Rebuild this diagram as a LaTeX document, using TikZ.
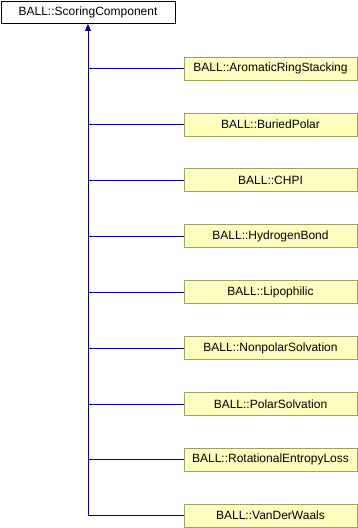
\documentclass[tikz,border=0pt]{standalone}
\usepackage{fontspec}
\setmainfont{Liberation Sans}
\usetikzlibrary{arrows.meta}
\definecolor{edgeblue}{HTML}{000080}
\definecolor{childfill}{HTML}{FFFFC0}
\definecolor{childline}{HTML}{A0A060}
\begin{document}
\begin{tikzpicture}[x=1pt,y=-1pt,
  basebox/.style={draw=black,fill=white,line width=0.8pt,minimum width=174pt,minimum height=22pt,inner sep=0pt,font=\fontsize{12}{14}\selectfont},
  childbox/.style={draw=childline,fill=childfill,line width=0.8pt,minimum width=173pt,minimum height=23pt,inner sep=0pt,font=\fontsize{12}{14}\selectfont},
  inherit/.style={draw=edgeblue,line width=0.8pt},
  tip/.style={-{Triangle[length=7pt,width=6pt]}}]
\useasboundingbox (0,0) rectangle (358,528);
\node[basebox] (base) at (88,12.5) {BALL::ScoringComponent};
\foreach \name/\label [count=\i from 0] in {
  ars/AromaticRingStacking, bp/BuriedPolar, chpi/CHPI, hb/HydrogenBond,
  lip/Lipophilic, nps/NonpolarSolvation, ps/PolarSolvation,
  rel/RotationalEntropyLoss, vdw/VanDerWaals}{
  \node[childbox] (\name) at (270.5,{68.5+55.9*\i}) {BALL::\label};
  \coordinate (j\name) at (88,{68.5+55.9*\i});
  \draw[inherit] (\name.west) -- (j\name);
}
\draw[inherit,tip] (jvdw) -- (base.south);
\end{tikzpicture}
\end{document}
